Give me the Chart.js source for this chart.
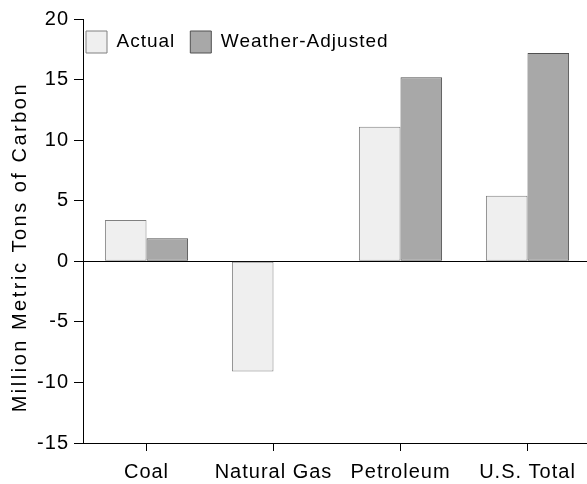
<!DOCTYPE html>
<html><head><meta charset="utf-8">
<script src="https://cdn.jsdelivr.net/npm/chart.js@4.4.1/dist/chart.umd.min.js"></script>
<style>html,body{margin:0;padding:0;background:#fff;}#wrap{width:587px;height:484px;}</style>
</head><body><div id="wrap"><canvas id="c" width="587" height="484"></canvas></div>
<script>
const categories = ['Coal', 'Natural Gas', 'Petroleum', 'U.S. Total'];
const actual = [3.4, -9.1, 11.1, 5.4];
const weatherAdjusted = [1.9, 0, 15.2, 17.2];
const seriesNames = ['Actual', 'Weather-Adjusted'];
const yTicks = [-15, -10, -5, 0, 5, 10, 15, 20];
const yTitle = 'Million Metric Tons of Carbon';

const FONT = "'Liberation Sans', Arial, sans-serif";
const LS = '1px';

const stylePlugin = {
  id: 'stylePlugin',
  afterInit(chart) {
    const lg = chart.legend;
    if (lg && !lg.__patched) {
      const origFit = lg.fit;
      lg.fit = function () { origFit.apply(this, arguments); this.__h = this.height; this.height = 0; };
      lg.__patched = true;
    }
  },
  beforeLayout(chart) { chart.ctx.letterSpacing = LS; },
  afterLayout(chart) {
    const x = chart.scales.x;
    if (x) { x.right += 4; x.width += 4; x.configure(); }
    const lg = chart.legend;
    if (!lg) return;
    const pad = lg.options.labels.padding;
    lg.left = chart.chartArea.left + 3 - pad;
    lg.top = 31 - pad;
    lg.height = lg.__h || 60;
    lg.width = chart.width;
    lg.right = lg.left + lg.width;
    lg.bottom = lg.top + lg.height;
  },
  beforeDraw(chart) {
    chart.ctx.letterSpacing = LS;
    const s = chart.scales.y;
    if (s && !s.__patched) {
      const orig = s.drawTitle;
      s.drawTitle = function () {
        const c = this.ctx; const p = c.letterSpacing;
        c.letterSpacing = '2.5px';
        orig.apply(this, arguments);
        c.letterSpacing = p;
      };
      s.__patched = true;
    }
  }
};

new Chart(document.getElementById('c'), {
  type: 'bar',
  data: {
    labels: categories,
    datasets: [
      { label: seriesNames[0], data: actual, backgroundColor: '#efefef', borderColor: '#808080',
        borderWidth: 1, borderSkipped: false, barPercentage: 1, categoryPercentage: 0.655 },
      { label: seriesNames[1], data: weatherAdjusted, backgroundColor: '#a8a8a8', borderColor: '#505050',
        borderWidth: 1, borderSkipped: false, barPercentage: 1, categoryPercentage: 0.655 }
    ]
  },
  options: {
    responsive: false,
    animation: false,
    devicePixelRatio: 1,
    layout: { padding: { left: 0, top: 19, right: 0, bottom: 0 } },
    plugins: {
      tooltip: { enabled: false },
      legend: {
        position: 'top', align: 'start',
        labels: { font: { family: FONT, size: 19 }, color: '#000', boxWidth: 21, boxHeight: 22, padding: 15 }
      }
    },
    scales: {
      x: {
        ticks: { color: '#000', font: { family: FONT, size: 20 }, padding: 9, maxRotation: 0, autoSkip: false },
        grid: { offset: false, drawOnChartArea: false, color: '#000', tickLength: 8, lineWidth: 1 },
        border: { color: '#000', width: 1 },
        afterFit: s => { s.height = 41; }
      },
      y: {
        min: -15, max: 20,
        afterBuildTicks: s => { s.ticks = yTicks.map(v => ({ value: v })); },
        ticks: { color: '#000', font: { family: FONT, size: 20 }, padding: 5 },
        grid: {
          color: c => (c.tick && c.tick.value === 0) ? '#000' : 'rgba(0,0,0,0)',
          tickColor: '#000', tickLength: 9, lineWidth: 1, tickWidth: 1
        },
        border: { color: '#000', width: 1 },
        title: { display: true, text: yTitle + '    ', color: '#000', font: { family: FONT, size: 20 }, padding: { top: 8, bottom: 0 } },
        afterFit: s => { s.width = 83; }
      }
    }
  },
  plugins: [stylePlugin]
});
</script></body></html>
